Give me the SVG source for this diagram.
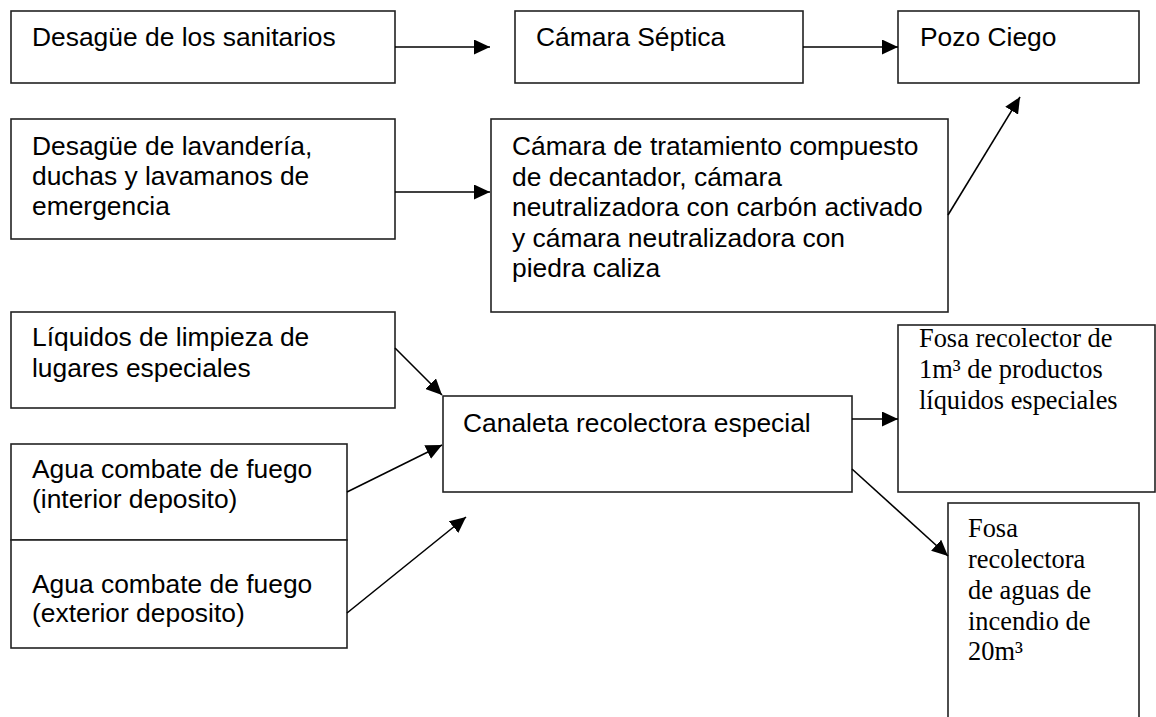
<svg xmlns="http://www.w3.org/2000/svg" width="1156" height="717" viewBox="0 0 1156 717">
<style>
  .box { fill: #ffffff; stroke: #222222; stroke-width: 1.6; }
  .sans { font-family: "Liberation Sans", Arial, sans-serif; font-size: 26.4px; fill: #000; }
  .serif { font-family: "Liberation Serif", "Times New Roman", serif; font-size: 26.4px; fill: #000; }
  .conn { stroke: #000; stroke-width: 1.6; fill: none; marker-end: url(#arrow); }
</style>
<defs>
  <marker id="arrow" markerUnits="userSpaceOnUse" markerWidth="17" markerHeight="15" refX="16" refY="7.5" orient="auto">
    <path d="M0,0 L16,7.5 L0,15 z" fill="#000"/>
  </marker>
</defs>
<rect width="1156" height="717" fill="#ffffff"/>

<g id="n1">
  <rect class="box" x="11" y="11" width="384" height="72"/>
  <text class="sans" x="32" y="46">Desagüe de los sanitarios</text>
</g>
<g id="n2">
  <rect class="box" x="515" y="11" width="288" height="72"/>
  <text class="sans" x="536" y="46">Cámara Séptica</text>
</g>
<g id="n3">
  <rect class="box" x="898" y="11" width="241" height="72"/>
  <text class="sans" x="920" y="46">Pozo Ciego</text>
</g>
<g id="n4">
  <rect class="box" x="11" y="119" width="384" height="120"/>
  <text class="sans" x="32" y="155">Desagüe de lavandería,</text>
  <text class="sans" x="32" y="185">duchas y lavamanos de</text>
  <text class="sans" x="32" y="215">emergencia</text>
</g>
<g id="n5">
  <rect class="box" x="491" y="119" width="457" height="193"/>
  <text class="sans" x="512" y="155">Cámara de tratamiento compuesto</text>
  <text class="sans" x="512" y="185.5">de decantador, cámara</text>
  <text class="sans" x="512" y="216">neutralizadora con carbón activado</text>
  <text class="sans" x="512" y="246.5">y cámara neutralizadora con</text>
  <text class="sans" x="512" y="277">piedra caliza</text>
</g>
<g id="n6">
  <rect class="box" x="11" y="312" width="384" height="96"/>
  <text class="sans" x="32" y="346">Líquidos de limpieza de</text>
  <text class="sans" x="32" y="377">lugares especiales</text>
</g>
<g id="n7">
  <rect class="box" x="11" y="444" width="336" height="96"/>
  <text class="sans" x="32" y="478">Agua combate de fuego</text>
  <text class="sans" x="32" y="508">(interior deposito)</text>
</g>
<g id="n8">
  <rect class="box" x="11" y="540" width="336" height="108"/>
  <text class="sans" x="32" y="593">Agua combate de fuego</text>
  <text class="sans" x="32" y="622">(exterior deposito)</text>
</g>
<g id="n9">
  <rect class="box" x="443" y="396" width="409" height="96"/>
  <text class="sans" x="463" y="432">Canaleta recolectora especial</text>
</g>
<g id="n10">
  <rect class="box" x="898" y="325" width="257" height="167"/>
  <text class="serif" x="919" y="347">Fosa recolector de</text>
  <text class="serif" x="919" y="378">1m³ de productos</text>
  <text class="serif" x="919" y="409">líquidos especiales</text>
</g>
<g id="n11">
  <rect class="box" x="948" y="503" width="191" height="222"/>
  <text class="serif" x="968" y="537">Fosa</text>
  <text class="serif" x="968" y="568">recolectora</text>
  <text class="serif" x="968" y="599">de aguas de</text>
  <text class="serif" x="968" y="630">incendio de</text>
  <text class="serif" x="968" y="660">20m³</text>
</g>

<g id="connectors">
  <line class="conn" x1="395" y1="47" x2="490" y2="47"/>
  <line class="conn" x1="395" y1="192" x2="490" y2="192"/>
  <line class="conn" x1="803" y1="47" x2="898" y2="47"/>
  <line class="conn" x1="948" y1="215" x2="1020" y2="97"/>
  <line class="conn" x1="395" y1="348" x2="442" y2="395"/>
  <line class="conn" x1="347" y1="492" x2="442" y2="445"/>
  <line class="conn" x1="347" y1="613" x2="466" y2="517"/>
  <line class="conn" x1="852" y1="419" x2="898" y2="419"/>
  <line class="conn" x1="852" y1="469" x2="948" y2="556"/>
</g>
</svg>
